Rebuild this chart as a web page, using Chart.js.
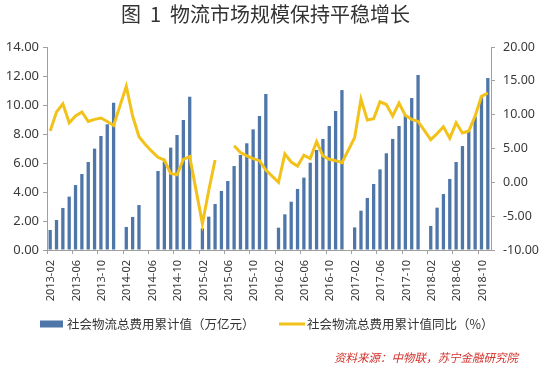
<!DOCTYPE html>
<html>
<head>
<meta charset="utf-8">
<script src="https://cdn.jsdelivr.net/npm/chart.js@4/dist/chart.umd.min.js"></script>
<style>
html,body{margin:0;padding:0;background:#ffffff;}
#wrap{width:540px;height:370px;position:relative;}
</style>
</head>
<body>
<div id="wrap"><canvas id="c"></canvas></div>
<script>
const titleText = '图  1  物流市场规模保持平稳增长';
const sourceText = '资料来源：中物联，苏宁金融研究院';
const costLabel = '社会物流总费用累计值（万亿元）';
const yoyLabel = '社会物流总费用累计值同比（%）';

const months = [
  '2013-02','2013-03','2013-04','2013-05','2013-06','2013-07','2013-08','2013-09','2013-10','2013-11','2013-12',
  '2014-01','2014-02','2014-03','2014-04','2014-05','2014-06','2014-07','2014-08','2014-09','2014-10','2014-11','2014-12',
  '2015-01','2015-02','2015-03','2015-04','2015-05','2015-06','2015-07','2015-08','2015-09','2015-10','2015-11','2015-12',
  '2016-01','2016-02','2016-03','2016-04','2016-05','2016-06','2016-07','2016-08','2016-09','2016-10','2016-11','2016-12',
  '2017-01','2017-02','2017-03','2017-04','2017-05','2017-06','2017-07','2017-08','2017-09','2017-10','2017-11','2017-12',
  '2018-01','2018-02','2018-03','2018-04','2018-05','2018-06','2018-07','2018-08','2018-09','2018-10','2018-11'
];

// 社会物流总费用累计值（万亿元）
const costValues = [
  1.38, 2.07, 2.90, 3.68, 4.48, 5.24, 6.07, 6.99, 7.86, 8.67, 10.16,
  null, 1.59, 2.28, 3.10, null, null, 5.45, 6.09, 7.06, 7.93, 8.97, 10.57,
  null, 1.49, 2.30, 3.17, 4.07, 4.76, 5.79, 6.55, 7.36, 8.32, 9.24, 10.76,
  null, 1.54, 2.46, 3.33, 4.21, 4.99, 6.02, 6.90, 7.66, 8.55, 9.59, 11.03,
  null, 1.56, 2.71, 3.59, 4.55, 5.56, 6.67, 7.66, 8.55, 9.31, 10.48, 12.07,
  null, 1.66, 2.92, 3.86, 4.90, 6.07, 7.17, 8.23, 9.20, 10.57, 11.86
];

// 社会物流总费用累计值同比（%）
const yoyValues = [
  7.6, 10.4, 11.6, 8.8, 9.8, 10.4, 9.0, 9.3, 9.5, 9.0, 8.4,
  null, 14.2, 9.8, 6.75, 5.6, 4.6, 3.7, 3.3, 1.3, 1.1, 3.4, 3.8,
  null, -6.1, -1.2, 3.3, null, null, 5.4, 4.4, 3.9, 3.5, 3.2, 1.8,
  null, 0.0, 4.2, 3.0, 2.4, 4.0, 3.5, 6.0, 3.9, 3.4, 3.2, 2.9,
  null, 6.6, 12.3, 9.2, 9.4, 11.9, 11.5, 9.8, 11.7, 9.9, 9.3, 9.0,
  null, 6.3, 7.2, 8.2, 6.5, 8.8, 7.3, 7.6, 9.8, 12.7, 13.2
];

const leftTicks = [0, 2, 4, 6, 8, 10, 12, 14];
const rightTicks = [-10, -5, 0, 5, 10, 15, 20];

// January has no statistics: the line joins December to February directly
const yoyPoints = months
  .map((m, i) => ({ x: m, y: yoyValues[i] }))
  .filter(p => !p.x.endsWith('-01'));

const axisColor = '#a0a0a0';
const textColor = '#3a3a3a';
const barColor = '#4f76a8';
const lineColor = '#f2c21a';
const cjkFont = "'Noto Sans CJK SC', sans-serif";

Chart.defaults.font.family = "'Noto Sans', 'Noto Sans CJK SC', sans-serif";
Chart.defaults.color = textColor;

// Title, legend and source note, drawn as canvas text around the plot
const framePlugin = {
  id: 'frameText',
  afterDraw(chart) {
    const ctx = chart.ctx;
    const ds = chart.data.datasets;
    ctx.save();
    ctx.textBaseline = 'middle';

    ctx.fillStyle = '#333333';
    ctx.font = '20px ' + cjkFont;
    ctx.textAlign = 'center';
    ctx.fillText(titleText, 265.5, 14.5);

    const ly = 324;
    ctx.textAlign = 'left';
    ctx.font = '12.5px ' + cjkFont;
    ctx.fillStyle = ds[0].backgroundColor;
    ctx.fillRect(40, ly - 3.5, 23, 7);
    ctx.fillStyle = '#333333';
    ctx.fillText(ds[0].label, 67, ly);

    ctx.strokeStyle = ds[1].borderColor;
    ctx.lineWidth = 3;
    ctx.beginPath();
    ctx.moveTo(279, ly);
    ctx.lineTo(305, ly);
    ctx.stroke();
    ctx.fillStyle = '#333333';
    ctx.fillText(ds[1].label, 307, ly);

    ctx.fillStyle = '#d2302a';
    ctx.font = 'italic 11.5px ' + cjkFont;
    ctx.textAlign = 'right';
    ctx.fillText(sourceText, 518, 358);
    ctx.restore();
  }
};

new Chart(document.getElementById('c'), {
  type: 'bar',
  data: {
    labels: months,
    datasets: [
      {
        type: 'bar',
        label: costLabel,
        data: costValues,
        yAxisID: 'y',
        backgroundColor: barColor,
        borderWidth: 0,
        barPercentage: 0.52,
        categoryPercentage: 1.0,
        order: 1
      },
      {
        type: 'line',
        label: yoyLabel,
        data: yoyPoints,
        yAxisID: 'y1',
        borderColor: lineColor,
        backgroundColor: lineColor,
        borderWidth: 3,
        pointRadius: 0,
        pointHoverRadius: 0,
        tension: 0,
        fill: false,
        order: 0
      }
    ]
  },
  plugins: [framePlugin],
  options: {
    responsive: true,
    maintainAspectRatio: false,
    animation: false,
    layout: { padding: { left: 0, right: 0, top: 47, bottom: 0 } },
    plugins: {
      tooltip: { enabled: false },
      title: { display: false },
      legend: { display: false }
    },
    scales: {
      x: {
        type: 'category',
        offset: true,
        grid: {
          offset: true,
          drawOnChartArea: false,
          drawTicks: true,
          tickLength: 4,
          tickColor: (ctx) => (ctx.index !== undefined && ctx.index % 4 === 0) ? axisColor : 'rgba(0,0,0,0)',
          color: axisColor
        },
        border: { display: true, color: axisColor, width: 1 },
        ticks: {
          autoSkip: false,
          minRotation: 90,
          maxRotation: 90,
          padding: 6,
          labelOffset: 1,
          color: textColor,
          font: { family: "'Noto Sans', sans-serif", size: 11 },
          callback: function (value, index) { return index % 4 === 0 ? months[index] : ''; }
        },
        afterFit: (scale) => { scale.height = 120; }
      },
      y: {
        position: 'left',
        min: leftTicks[0],
        max: leftTicks[leftTicks.length - 1],
        grid: { drawOnChartArea: false, drawTicks: true, tickLength: 4, color: axisColor },
        border: { display: true, color: axisColor, width: 1 },
        ticks: {
          stepSize: leftTicks[1] - leftTicks[0],
          padding: 4,
          color: textColor,
          font: { family: "'Noto Sans', sans-serif", size: 13 },
          callback: (v) => Number(v).toFixed(2)
        },
        afterFit: (scale) => { scale.width = 47; }
      },
      y1: {
        position: 'right',
        min: rightTicks[0],
        max: rightTicks[rightTicks.length - 1],
        grid: { drawOnChartArea: false, drawTicks: true, tickLength: 4, color: axisColor },
        border: { display: true, color: axisColor, width: 1 },
        ticks: {
          stepSize: rightTicks[1] - rightTicks[0],
          padding: 8,
          color: textColor,
          font: { family: "'Noto Sans', sans-serif", size: 12.5 },
          callback: (v) => Number(v).toFixed(2)
        },
        afterFit: (scale) => { scale.width = 49; }
      }
    }
  }
});
</script>
</body>
</html>
